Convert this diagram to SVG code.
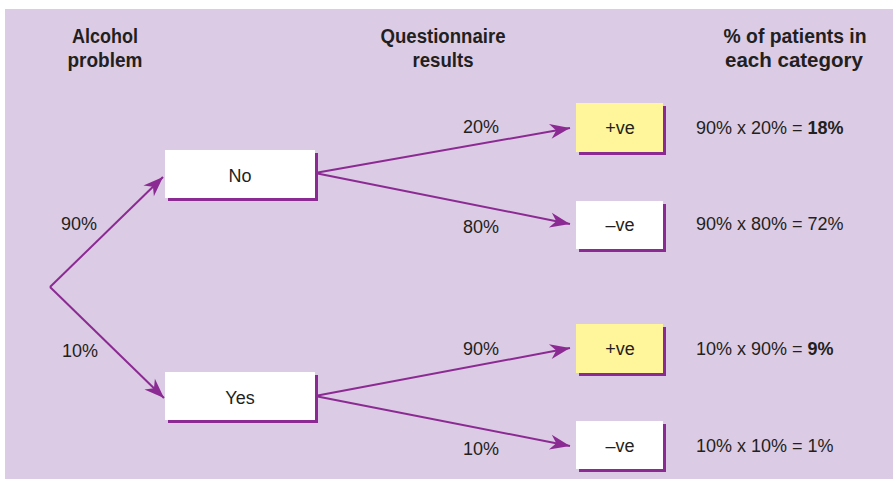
<svg xmlns="http://www.w3.org/2000/svg" width="893" height="479" viewBox="0 0 893 479">
<style>
.hd{font-family:"Liberation Sans",Arial,sans-serif;font-weight:bold;font-size:20px;fill:#231f20;text-anchor:middle}
.tx{font-family:"Liberation Sans",Arial,sans-serif;font-size:18px;fill:#231f20}
.lb{font-family:"Liberation Sans",Arial,sans-serif;font-size:18px;fill:#231f20;text-anchor:middle}
.shadow{fill:#8b2a93}
.box{fill:#ffffff}
.pos{fill:#fff59a}
.edge{stroke:#8b2a93;stroke-width:2;fill:none}
</style>
<defs>
<marker id="ah" markerUnits="userSpaceOnUse" markerWidth="24" markerHeight="20" viewBox="-22 -10 24 20" refX="0" refY="0" orient="auto">
<path d="M0,0 L-20,-7.5 L-14,0 L-20,7.5 Z" fill="#8b2a93"/>
</marker>
</defs>
<rect x="5" y="9" width="888" height="470" fill="#dccbe4"/>
<g id="headers">
<text class="hd" x="105" y="43" textLength="66" lengthAdjust="spacingAndGlyphs">Alcohol</text>
<text class="hd" x="105" y="67" textLength="75" lengthAdjust="spacingAndGlyphs">problem</text>
<text class="hd" x="443" y="43" textLength="125" lengthAdjust="spacingAndGlyphs">Questionnaire</text>
<text class="hd" x="443" y="67" textLength="61" lengthAdjust="spacingAndGlyphs">results</text>
<text class="hd" x="795" y="43" textLength="143" lengthAdjust="spacingAndGlyphs">% of patients in</text>
<text class="hd" x="794" y="67" textLength="138" lengthAdjust="spacingAndGlyphs">each category</text>
</g>
<g id="connectors">
<path class="edge" d="M50,287 L163,177" marker-end="url(#ah)"/>
<path class="edge" d="M50,287 L164,398" marker-end="url(#ah)"/>
<path class="edge" d="M315,173 L570,128" marker-end="url(#ah)"/>
<path class="edge" d="M315,173 L570,224" marker-end="url(#ah)"/>
<path class="edge" d="M315,396 L570,348" marker-end="url(#ah)"/>
<path class="edge" d="M315,396 L570,446" marker-end="url(#ah)"/>
</g>
<g id="edge-labels">
<text class="tx" x="61" y="230">90%</text>
<text class="tx" x="62" y="357">10%</text>
<text class="tx" x="463" y="133">20%</text>
<text class="tx" x="463" y="233">80%</text>
<text class="tx" x="463" y="355">90%</text>
<text class="tx" x="463" y="455">10%</text>
</g>
<g id="node-no">
<rect class="shadow" x="168" y="153" width="150" height="48"/>
<rect class="box" x="165" y="150" width="150" height="48"/>
<text class="lb" x="240" y="182">No</text>
</g>
<g id="node-yes">
<rect class="shadow" x="168" y="375" width="150" height="48"/>
<rect class="box" x="165" y="372" width="150" height="48"/>
<text class="lb" x="240" y="404">Yes</text>
</g>
<g id="node-no-pos">
<rect class="shadow" x="579" y="106" width="87" height="49"/>
<rect class="pos" x="576" y="103" width="87" height="49"/>
<text class="lb" x="620" y="134">+ve</text>
</g>
<g id="node-no-neg">
<rect class="shadow" x="579" y="204" width="87" height="48"/>
<rect class="box" x="576" y="201" width="87" height="48"/>
<text class="lb" x="620" y="231">–ve</text>
</g>
<g id="node-yes-pos">
<rect class="shadow" x="579" y="327" width="87" height="49"/>
<rect class="pos" x="576" y="324" width="87" height="49"/>
<text class="lb" x="620" y="355">+ve</text>
</g>
<g id="node-yes-neg">
<rect class="shadow" x="579" y="424" width="87" height="48"/>
<rect class="box" x="576" y="421" width="87" height="48"/>
<text class="lb" x="620" y="452">–ve</text>
</g>
<g id="results">
<text class="tx" x="696" y="134">90% x 20% = <tspan font-weight="bold">18%</tspan></text>
<text class="tx" x="696" y="230">90% x 80% = 72%</text>
<text class="tx" x="696" y="355">10% x 90% = <tspan font-weight="bold">9%</tspan></text>
<text class="tx" x="696" y="452">10% x 10% = 1%</text>
</g>
</svg>
